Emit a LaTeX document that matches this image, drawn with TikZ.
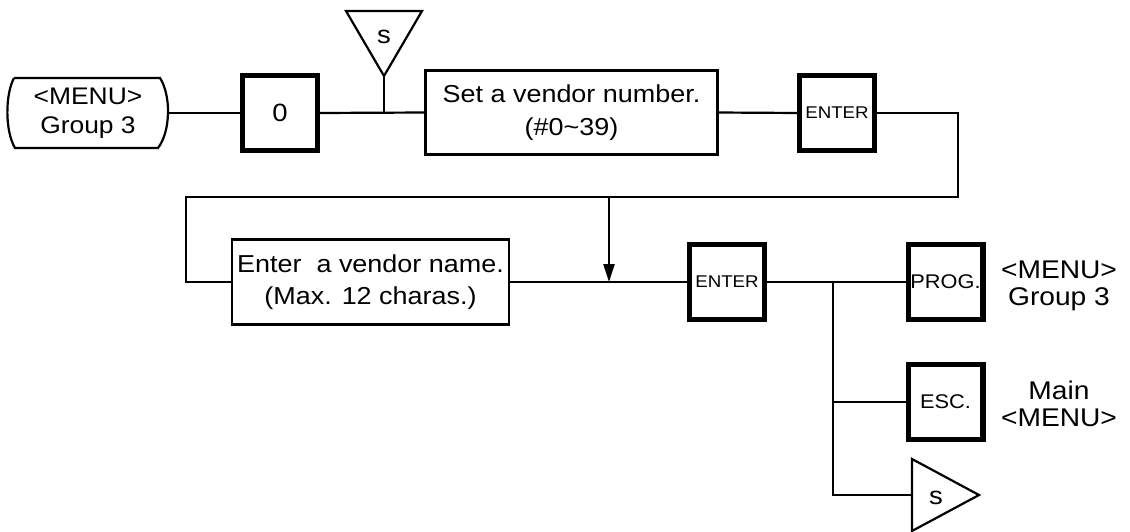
\documentclass[tikz,border=0pt]{standalone}
\usepackage{fontspec}
\setmainfont{Liberation Sans}[FakeStretch=1.1]
\usetikzlibrary{arrows.meta}
\begin{document}
\begin{tikzpicture}[x=0.5pt,y=-0.5pt,
  conn/.style={line width=1.1pt},
  keybox/.style={draw, line width=2.7pt, minimum width=37.3pt, minimum height=37.3pt, inner sep=0pt, outer sep=0pt},
  textbox/.style={draw, line width=1.1pt, inner sep=0pt, outer sep=0pt, align=center, font=\fontsize{12.25}{16.3}\selectfont},
  lbl/.style={align=center, font=\fontsize{12.8}{13.8}\selectfont, inner sep=0pt},
  keysmall/.style={font=\fontsize{9.9}{11}\selectfont},
  keyenter/.style={font=\fontsize{8.5}{10}\selectfont},
]
\useasboundingbox (0,0) rectangle (1130,531);

% top row
\node[align=center, font=\fontsize{12}{14.5}\selectfont, inner sep=0pt, minimum width=79.5pt, minimum height=35pt, outer sep=0pt] (menu) at (88,113) {<MENU>\\Group 3};
\draw[line width=1.1pt] (14,78) -- (160,78) .. controls (171,95) and (171,131) .. (158,148)
   -- (15,148) .. controls (5,131) and (5,95) .. (14,78);
\node[keybox, font=\fontsize{12.5}{14}\selectfont] (key0) at (280,113) {0};
\node[textbox, minimum width=146pt, minimum height=42pt] (setbox) at (571.5,112.5) {Set a vendor number.\\(\#0\char`\~39)};
\node[keybox, keyenter] (enter1) at (837,113) {ENTER};

% top s triangle
\coordinate (sApex) at (384,76);
\draw[line width=1.1pt] (346,11) -- (422,11) -- (sApex) -- cycle;
\node[font=\fontsize{12.5}{14}\selectfont, inner sep=0pt] (sTop) at (384,37) {s};

\draw[conn] (menu.east) -- (key0.west);
\draw[conn] (key0.east) -- (setbox.west);
\draw[conn] (sApex) -- (sApex |- key0);
\draw[conn] (setbox.east) -- (enter1.west);

% second row
\node[textbox, minimum width=138.5pt, minimum height=42.5pt] (namebox) at (370.5,282) {Enter\ \ a vendor name.\\(Max. 12 charas.)};
\node[keybox, keyenter] (enter2) at (727,282) {ENTER};
\node[keybox, keysmall] (prog) at (945.5,282) {PROG.};
\node[keybox, keysmall] (esc) at (945.5,402) {ESC.};

\coordinate (r0) at (958,113);
\coordinate (r1) at (958,197);
\coordinate (r2) at (186,197);
\draw[conn] (enter1.east) -- (r0) -- (r1) -- (r2) |- (namebox.west);

\coordinate (a1) at (609,197);
\draw[conn, -{Triangle[length=9pt,width=5.5pt]}] (a1) -- (a1 |- namebox);

\draw[conn] (namebox.east) -- (enter2.west);
\draw[conn] (enter2.east) -- (prog.west);

% bottom s triangle
\coordinate (s2W) at (912,495);
\draw[line width=1.1pt] (912,459) -- (979,495) -- (912,531) -- cycle;
\node[font=\fontsize{12.5}{14}\selectfont, inner sep=0pt] (sBot) at (936,498) {s};

\coordinate (b0) at (833,282);
\draw[conn] (b0) |- (s2W);
\draw[conn] (b0 |- esc) -- (esc.west);

% right labels
\node[lbl] (lblprog) at (1059,286) {<MENU>\\Group 3};
\node[lbl] (lblesc) at (1059,404) {Main\\<MENU>};
\end{tikzpicture}
\end{document}
